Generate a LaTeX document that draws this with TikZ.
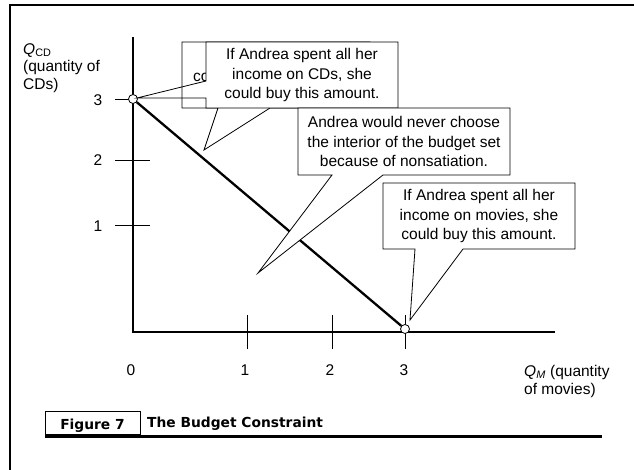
\documentclass[tikz,border=0pt]{standalone}
\usepackage{fontspec}
\setmainfont{Liberation Sans}
\newfontfamily\capfont{DejaVu Sans}
\usetikzlibrary{calc}

\begin{document}
\begin{tikzpicture}[x=1pt,y=-1pt,
  every node/.style={inner sep=0pt,font=\fontsize{15.5}{19}\selectfont},
  axisline/.style={line width=2.8pt},
  budgetline/.style={line width=2.3pt},
  tickline/.style={line width=0.9pt},
  balloon/.style={draw,fill=white,line width=0.8pt},
  notetext/.style={align=center,font=\fontsize{15.5}{19.3}\selectfont},
  endpoint/.style={circle,draw,fill=white,line width=0.8pt,minimum size=9pt}]

\useasboundingbox (0,0) rectangle (634,470);

% frame, top and left edge only
\draw[line width=2.4pt] (10,470) -- (10,5) -- (634,5);

% axes and ticks
\coordinate (origin) at (133,332);
\draw[axisline] (133,37) -- (origin) -- (555,332);
\draw[tickline] (115,99) -- (133,99);
\foreach \ypos in {160,225}
  \draw[tickline] (115,\ypos) -- (150,\ypos);
\foreach \xpos in {247,332,405}
  \draw[tickline] (\xpos,315) -- (\xpos,349);

% tick labels
\node (ylab3) at (98,100) {3};
\node (ylab2) at (98,160) {2};
\node (ylab1) at (98,226) {1};
\foreach \xpos/\lab in {131/0,245/1,330/2,404/3}
  \node (xlab\lab) at (\xpos,370) {\lab};

% axis titles
\node[anchor=north west,align=left,font=\fontsize{15.5}{17.5}\selectfont] (ytitle) at (23,43)
  {\textit{Q}\textsubscript{CD}\\(quantity of\\CDs)};
\node[anchor=north west,align=left,font=\fontsize{15.5}{18}\selectfont] (xtitle) at (524,365)
  {\textit{Q}\textsubscript{\textit{M}} (quantity\\of movies)};

% budget line between the two corners
\node[endpoint] (allcd) at (133,99) {};
\node[endpoint] (allmv) at (405,329) {};
\draw[budgetline] (allcd) -- (allmv);

% note lying behind the CD note
\coordinate (backtip) at (204,150);
\draw[balloon] (182,42) -- (370,42) -- (370,108) -- (270,108) -- (backtip) -- (218,108) -- (182,108) -- cycle;
\node[anchor=base west] (backnote) at (193,82) {co};

% CD note
\coordinate (cdtip) at (137,98);
\fill[white] (206,42) rectangle (398,108);
\draw[line width=0.8pt] (206,98) -- (cdtip) -- (206,81) |- (398,42) |- (206,108) -- cycle;
\node[notetext] (cdnote) at (302,75) {If Andrea spent all her\\income on CDs, she\\could buy this amount.};

% nonsatiation note
\coordinate (innertip) at (258,273);
\draw[balloon] (298,108) -| (510,175) -- (383,175) -- (innertip) -- (332,175) -- (298,175) -- cycle;
\node[notetext] (satnote) at (404,141.5) {Andrea would never choose\\the interior of the budget set\\because of nonsatiation.};

% movies note
\coordinate (mvtip) at (410,320);
\draw[balloon] (383,183) -| (575,249) -- (463,249) -- (mvtip) -- (415,249) -- (383,249) -- cycle;
\node[notetext] (mvnote) at (479,216) {If Andrea spent all her\\income on movies, she\\could buy this amount.};

% caption
\draw[line width=0.8pt] (45,411) rectangle (140,434);
\draw[line width=3pt] (45,436) -- (602,436);
\node[anchor=base,font=\capfont\bfseries\fontsize{13.8}{16}\selectfont] (figtag) at (92.5,429) {Figure 7};
\node[anchor=base west,font=\capfont\bfseries\fontsize{13.8}{16}\selectfont] (figtitle) at (147,427) {The Budget Constraint};
\end{tikzpicture}
\end{document}
